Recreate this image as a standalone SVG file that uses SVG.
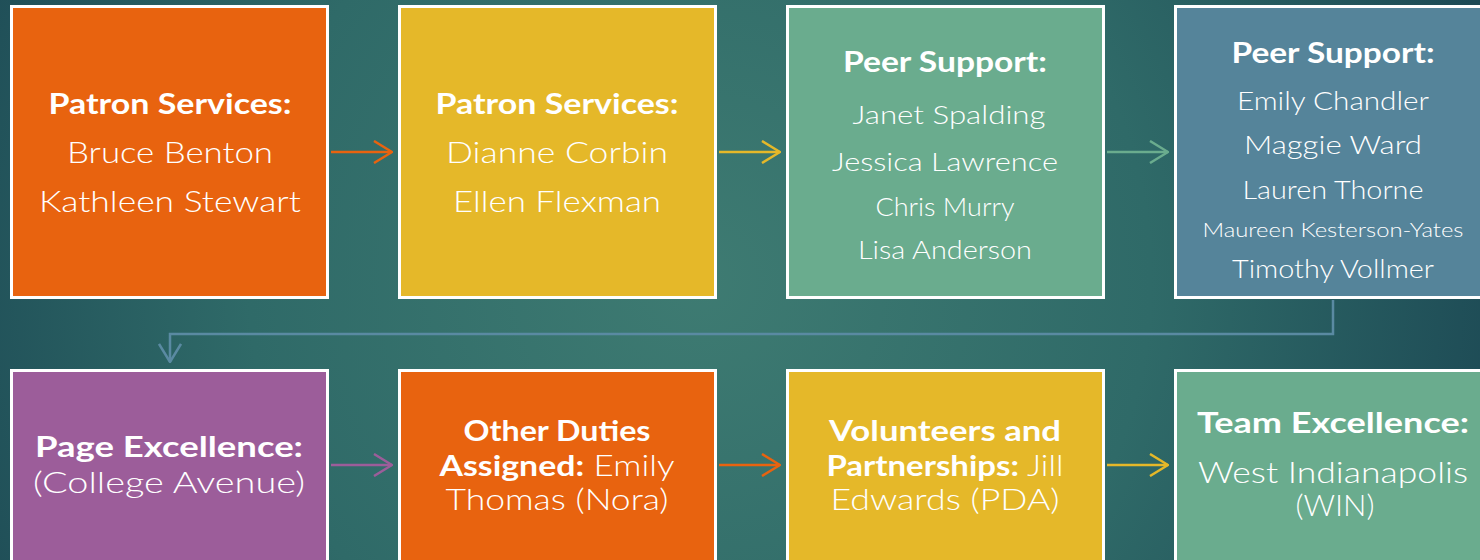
<svg xmlns="http://www.w3.org/2000/svg" width="1480" height="560" viewBox="0 0 1480 560">
<defs>
<radialGradient id="bg" cx="700" cy="280" r="820" gradientUnits="userSpaceOnUse">
<stop offset="0" stop-color="#3e7b72"/>
<stop offset="0.55" stop-color="#2f6a68"/>
<stop offset="1" stop-color="#1d4a55"/>
</radialGradient>
<marker id="ahO" viewBox="0 0 20 24" refX="19" refY="12" markerWidth="20" markerHeight="24" markerUnits="userSpaceOnUse" orient="auto"><path d="M1,1 L19,12 L1,23" fill="none" stroke="#e8630f" stroke-width="2.5"/></marker>
<marker id="ahY" viewBox="0 0 20 24" refX="19" refY="12" markerWidth="20" markerHeight="24" markerUnits="userSpaceOnUse" orient="auto"><path d="M1,1 L19,12 L1,23" fill="none" stroke="#e5b829" stroke-width="2.5"/></marker>
<marker id="ahG" viewBox="0 0 20 24" refX="19" refY="12" markerWidth="20" markerHeight="24" markerUnits="userSpaceOnUse" orient="auto"><path d="M1,1 L19,12 L1,23" fill="none" stroke="#6aac8e" stroke-width="2.5"/></marker>
<marker id="ahB" viewBox="0 0 20 24" refX="19" refY="12" markerWidth="20" markerHeight="24" markerUnits="userSpaceOnUse" orient="auto"><path d="M1,1 L19,12 L1,23" fill="none" stroke="#5a8aa2" stroke-width="2.5"/></marker>
<marker id="ahP" viewBox="0 0 20 24" refX="19" refY="12" markerWidth="20" markerHeight="24" markerUnits="userSpaceOnUse" orient="auto"><path d="M1,1 L19,12 L1,23" fill="none" stroke="#9c5d9a" stroke-width="2.5"/></marker>
</defs>
<style>
.box{stroke:#ffffff;stroke-width:3}
.o{fill:#e8630f}.y{fill:#e5b829}.g{fill:#6aac8e}.b{fill:#55849a}.p{fill:#9c5d9a}
text{font-family:Lato,"Liberation Sans",sans-serif;fill:#ffffff;text-anchor:middle}
.t{font-weight:bold;font-size:29px}
.n{font-weight:300;font-size:30px}
.s{font-weight:300;font-size:26px}
.x{font-weight:300;font-size:19px}
.c{fill:none;stroke-width:2.5}
</style>
<rect width="1480" height="560" fill="url(#bg)"/>
<g id="connectors">
<path class="c" d="M331,152 H392" stroke="#e8630f" marker-end="url(#ahO)"/>
<path class="c" d="M719,152 H780" stroke="#e5b829" marker-end="url(#ahY)"/>
<path class="c" d="M1107,152 H1168" stroke="#6aac8e" marker-end="url(#ahG)"/>
<path class="c" d="M1333,300 V334 H170 V362" stroke="#5a8aa2" marker-end="url(#ahB)"/>
<path class="c" d="M331,465 H392" stroke="#9c5d9a" marker-end="url(#ahP)"/>
<path class="c" d="M719,465 H780" stroke="#e8630f" marker-end="url(#ahO)"/>
<path class="c" d="M1107,465 H1168" stroke="#e5b829" marker-end="url(#ahY)"/>
</g>
<g id="n1">
<rect class="box o" x="11.5" y="6.5" width="316" height="291"/>
<text class="t" x="170" y="114" textLength="243" lengthAdjust="spacingAndGlyphs">Patron Services:</text>
<text class="n" x="170" y="163" textLength="206" lengthAdjust="spacingAndGlyphs">Bruce Benton</text>
<text class="n" x="170" y="212" textLength="262" lengthAdjust="spacingAndGlyphs">Kathleen Stewart</text>
</g>
<g id="n2">
<rect class="box y" x="399.5" y="6.5" width="316" height="291"/>
<text class="t" x="557" y="114" textLength="243" lengthAdjust="spacingAndGlyphs">Patron Services:</text>
<text class="n" x="557" y="163" textLength="222" lengthAdjust="spacingAndGlyphs">Dianne Corbin</text>
<text class="n" x="557" y="212" textLength="208" lengthAdjust="spacingAndGlyphs">Ellen Flexman</text>
</g>
<g id="n3">
<rect class="box g" x="787.5" y="6.5" width="316" height="291"/>
<text class="t" x="945" y="72" textLength="204" lengthAdjust="spacingAndGlyphs">Peer Support:</text>
<text class="s" x="949" y="124" textLength="193" lengthAdjust="spacingAndGlyphs">Janet Spalding</text>
<text class="s" x="945" y="171" textLength="226" lengthAdjust="spacingAndGlyphs">Jessica Lawrence</text>
<text class="s" x="945" y="216" textLength="139" lengthAdjust="spacingAndGlyphs">Chris Murry</text>
<text class="s" x="945" y="259" textLength="174" lengthAdjust="spacingAndGlyphs">Lisa Anderson</text>
</g>
<g id="n4">
<rect class="box b" x="1175.5" y="6.5" width="330" height="291"/>
<text class="t" x="1333" y="63" textLength="203" lengthAdjust="spacingAndGlyphs">Peer Support:</text>
<text class="s" x="1333" y="110" textLength="192" lengthAdjust="spacingAndGlyphs">Emily Chandler</text>
<text class="s" x="1333" y="154" textLength="178" lengthAdjust="spacingAndGlyphs">Maggie Ward</text>
<text class="s" x="1333" y="199" textLength="181" lengthAdjust="spacingAndGlyphs">Lauren Thorne</text>
<text class="x" x="1333" y="237" textLength="261" lengthAdjust="spacingAndGlyphs">Maureen Kesterson-Yates</text>
<text class="s" x="1333" y="278" textLength="202" lengthAdjust="spacingAndGlyphs">Timothy Vollmer</text>
</g>
<g id="n5">
<rect class="box p" x="11.5" y="370.5" width="316" height="200"/>
<text class="t" x="169" y="457" textLength="268" lengthAdjust="spacingAndGlyphs">Page Excellence:</text>
<text class="n" x="169" y="493" textLength="272" lengthAdjust="spacingAndGlyphs">(College Avenue)</text>
</g>
<g id="n6">
<rect class="box o" x="399.5" y="370.5" width="316" height="200"/>
<text class="t" x="557" y="441" textLength="187" lengthAdjust="spacingAndGlyphs">Other Duties</text>
<text x="557" y="476" textLength="235" lengthAdjust="spacingAndGlyphs"><tspan class="t">Assigned:</tspan><tspan class="n"> Emily</tspan></text>
<text class="n" x="557" y="510" textLength="223" lengthAdjust="spacingAndGlyphs">Thomas (Nora)</text>
</g>
<g id="n7">
<rect class="box y" x="787.5" y="370.5" width="316" height="200"/>
<text class="t" x="945" y="441" textLength="232" lengthAdjust="spacingAndGlyphs">Volunteers and</text>
<text x="945" y="476" textLength="237" lengthAdjust="spacingAndGlyphs"><tspan class="t">Partnerships:</tspan><tspan class="n"> Jill</tspan></text>
<text class="n" x="945" y="510" textLength="229" lengthAdjust="spacingAndGlyphs">Edwards (PDA)</text>
</g>
<g id="n8">
<rect class="box g" x="1175.5" y="370.5" width="330" height="200"/>
<text class="t" x="1333" y="433" textLength="272" lengthAdjust="spacingAndGlyphs">Team Excellence:</text>
<text class="n" x="1333" y="483" textLength="270" lengthAdjust="spacingAndGlyphs">West Indianapolis</text>
<text class="n" x="1335" y="516" textLength="79" lengthAdjust="spacingAndGlyphs">(WIN)</text>
</g>
</svg>
